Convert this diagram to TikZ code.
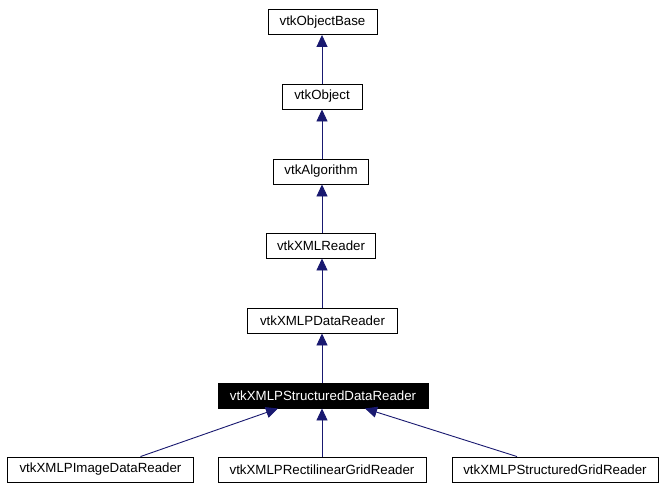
\documentclass[tikz,border=0pt]{standalone}
\usepackage{fontspec}
\setmainfont{Liberation Sans}
\usetikzlibrary{arrows.meta}
\definecolor{edgeblue}{HTML}{191970}
\begin{document}
\begin{tikzpicture}[x=1pt,y=-1pt,
  cls/.style={draw=black,line width=0.9pt,fill=white,rectangle,inner sep=0pt,
    minimum height=25pt,font=\fontsize{13.3}{15}\selectfont,anchor=center},
  cur/.style={cls,fill=black,text=white},
  inh/.style={draw=edgeblue,line width=0.9pt,
    -{Triangle[width=11pt,length=12pt,fill=edgeblue]}}]
\useasboundingbox[fill=white] (0,0) rectangle (666,490);
\node[cls,minimum width=109pt] (base) at (322.5,22) {vtkObjectBase};
\node[cls,minimum width=80pt] (obj) at (322,96.5) {vtkObject};
\node[cls,minimum width=95pt] (alg) at (321,171.5) {vtkAlgorithm};
\node[cls,minimum width=109pt] (xml) at (321,245.5) {vtkXMLReader};
\node[cls,minimum width=150pt] (pdr) at (322.5,320.5) {vtkXMLPDataReader};
\node[cur,minimum width=210pt] (sd) at (323,395.5) {vtkXMLPStructuredDataReader};
\node[cls,minimum width=186pt] (img) at (100.5,469.5) {vtkXMLPImageDataReader};
\node[cls,minimum width=208pt] (rect) at (322,469.5) {vtkXMLPRectilinearGridReader};
\node[cls,minimum width=206pt] (grid) at (555,469.5) {vtkXMLPStructuredGridReader};
\coordinate (sdL) at ([xshift=-45pt]sd.south);
\coordinate (sdR) at ([xshift=42pt]sd.south);
\coordinate (imgT) at ([xshift=40pt]img.north);
\coordinate (gridT) at ([xshift=-38pt]grid.north);
\draw[inh] (obj.north) -- (base.south -| obj.north);
\draw[inh] (alg.north -| obj.north) -- (obj.south);
\draw[inh] (xml.north -| obj.north) -- (alg.south -| obj.north);
\draw[inh] (pdr.north -| obj.north) -- (xml.south -| obj.north);
\draw[inh] (sd.north -| obj.north) -- (pdr.south -| obj.north);
\draw[inh] (rect.north -| obj.north) -- (sd.south -| obj.north);
\draw[inh] (imgT) -- (sdL);
\draw[inh] (gridT) -- (sdR);
\end{tikzpicture}
\end{document}
